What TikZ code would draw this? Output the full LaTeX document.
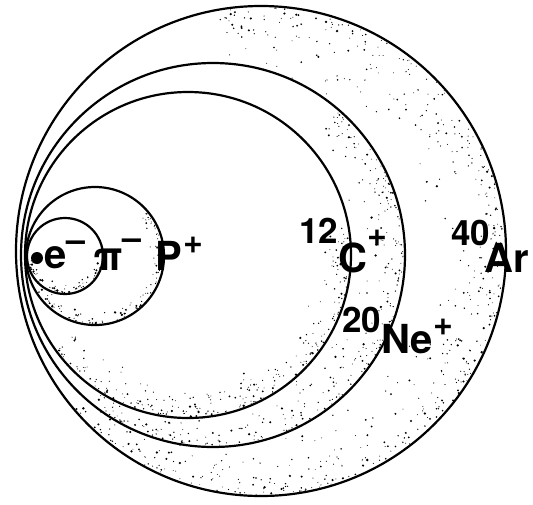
\documentclass[tikz,border=0pt]{standalone}
\usepackage{fontspec}
\setmainfont{TeX Gyre Heros}
\newcommand\upr[3]{\raisebox{#1}{\fontsize{#2}{#2}\selectfont #3}}
\newcommand\mystipple[7]{%
  \foreach \k in {1,...,#4}{%
    \pgfmathsetmacro\ang{#5+(#6-#5)*rnd}%
    \pgfmathsetmacro\rr{#3-1.5-#7*rnd*rnd}%
    \pgfmathsetmacro\sz{0.45+1.0*rnd*rnd}%
    \fill[speck] (#1,#2) ++(\ang:\rr) circle (\sz);
  }}
\tikzset{
  ring/.style={draw=black, line width=2.2pt, circle, inner sep=0pt},
  speck/.style={fill=black},
  lbl/.style={anchor=base west, inner sep=0pt, font=\fontsize{40}{40}\selectfont\bfseries},
}
\begin{document}
\begin{tikzpicture}[x=1pt,y=-1pt]
\useasboundingbox[fill=white] (0,0) rectangle (533,504);
\pgfmathsetseed{7}
% stippled shading, painted from the outermost circle inwards
\fill[white] (261,251) circle (245);
\mystipple{261}{251}{245}{560}{-100}{140}{80}
\fill[white] (213,255) circle (192);
\mystipple{213}{255}{192}{330}{-50}{135}{45}
\fill[white] (188,255) circle (163);
\mystipple{188}{255}{163}{240}{-10}{145}{35}
\fill[white] (95,256) circle (69);
\mystipple{95}{256}{69}{100}{-40}{150}{14}
\fill[white] (65,256) circle (38);
\mystipple{65}{256}{38}{55}{10}{175}{9}
% circles
\node[ring, minimum size=490pt] (ar) at (261,251) {};
\node[ring, minimum size=384pt] (ne) at (213,255) {};
\node[ring, minimum size=326pt] (c) at (188,255) {};
\node[ring, minimum size=138pt] (p) at (95,256) {};
\node[ring, minimum size=76pt] (pi) at (65,256) {};
\node[circle, fill=black, inner sep=0pt, minimum size=12pt] (e) at (37,258) {};
% labels
\node[lbl] (le) at (44,268) {e\upr{17pt}{34pt}{\textendash}};
\node[lbl] (lpi) at (93,270) {π\upr{21pt}{34pt}{\textendash}};
\node[lbl] (lp) at (155,270) {P\kern2pt\upr{17pt}{34pt}{+}};
\node[lbl] (lc) at (299,272) {\upr{29pt}{35pt}{12}C\upr{26pt}{34pt}{+}};
\node[lbl] (lne) at (342,353) {\upr{21pt}{35pt}{20}Ne\upr{18pt}{34pt}{+}};
\node[lbl] (lar) at (451,272) {\upr{27pt}{35pt}{40}\kern-6pt Ar};
\end{tikzpicture}
\end{document}
